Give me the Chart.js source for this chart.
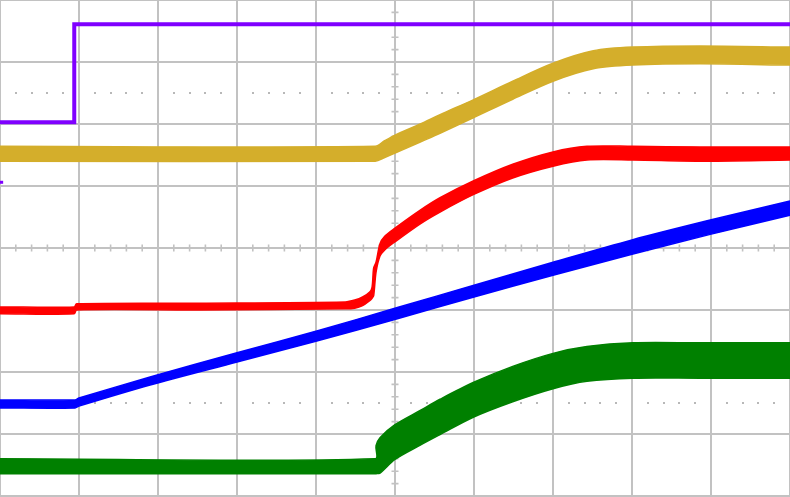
<!DOCTYPE html>
<html><head><meta charset="utf-8">
<script src="https://cdn.jsdelivr.net/npm/chart.js@4"></script>
<style>html,body{margin:0;padding:0;background:#fff;overflow:hidden}</style>
</head><body>
<canvas id="c" width="790" height="497"></canvas>
<script>
// time in divisions (0..10), level in divisions (0..8, bottom = 0)
const purpleT = [0, 0.94, 0.94, 10];
const purpleV = [6.03, 6.03, 7.61, 7.61];
const markerT = [0, 0.04];
const markerV = [5.06, 5.06];

const goldT   = [0, 4.75, 4.87, 5.0, 5.32, 5.57, 5.99, 6.49, 7.0, 7.51, 8.01, 8.86, 10];
const goldTop = [5.64, 5.64, 5.73, 5.82, 6.00, 6.15, 6.39, 6.69, 6.98, 7.18, 7.24, 7.26, 7.24];
const goldBot = [5.40, 5.40, 5.46, 5.53, 5.71, 5.85, 6.10, 6.40, 6.69, 6.89, 6.95, 6.97, 6.95];

const redT   = [0, 0.94, 0.97, 2.53, 4.37, 4.49, 4.59, 4.68, 4.71, 4.73, 4.76, 4.81, 4.87, 5.0, 5.32, 5.57, 5.99, 6.49, 7.0, 7.43, 8.01, 8.86, 10];
const redTop = [3.05, 3.05, 3.10, 3.11, 3.13, 3.16, 3.21, 3.29, 3.37, 3.68, 3.77, 4.07, 4.19, 4.32, 4.61, 4.81, 5.08, 5.35, 5.55, 5.64, 5.64, 5.63, 5.63];
const redBot = [2.94, 2.94, 3.00, 3.00, 3.02, 3.03, 3.07, 3.15, 3.19, 3.23, 3.61, 3.87, 3.97, 4.10, 4.39, 4.58, 4.86, 5.13, 5.32, 5.42, 5.42, 5.40, 5.42];

const blueT   = [0, 0.95, 1.0, 1.9, 3.0, 4.01, 5.03, 6.0, 7.0, 8.0, 8.99, 10];
const blueTop = [1.55, 1.55, 1.58, 1.92, 2.31, 2.66, 3.04, 3.40, 3.77, 4.13, 4.45, 4.76];
const blueBot = [1.42, 1.42, 1.45, 1.79, 2.16, 2.50, 2.86, 3.21, 3.56, 3.90, 4.22, 4.53];

const greenT   = [0, 4.75, 4.76, 4.81, 5.0, 5.32, 5.57, 5.99, 6.49, 7.0, 7.43, 8.01, 8.86, 10];
const greenTop = [0.60, 0.60, 0.81, 0.94, 1.15, 1.38, 1.56, 1.83, 2.09, 2.30, 2.41, 2.47, 2.47, 2.47];
const greenBot = [0.36, 0.36, 0.36, 0.37, 0.59, 0.82, 0.99, 1.27, 1.52, 1.73, 1.85, 1.90, 1.90, 1.90];

const dotRows = [6.5, 1.5];

const pts = (t, v) => t.map((x, i) => ({x, y: v[i]}));
function band(t, top, bot, color) {
  const common = {borderColor: color, backgroundColor: color, borderWidth: 1.5, pointRadius: 0, tension: 0.3};
  return [
    Object.assign({data: pts(t, top), fill: '+1'}, common),
    Object.assign({data: pts(t, bot), fill: false}, common)
  ];
}

const GRID = '#c2c2c2';
const osc = {
  id: 'osc',
  beforeDatasetsDraw(chart) {
    const {ctx, scales: {x, y}} = chart;
    ctx.save();
    ctx.fillStyle = '#b8b8b8';
    for (const row of dotRows) {
      const py = y.getPixelForValue(row);
      for (let i = 0; i <= 50; i++) {
        if (i % 5 === 0) continue;
        const px = x.getPixelForValue(i * 0.2);
        ctx.fillRect(Math.round(px) - 1, Math.round(py) - 1, 2, 2);
      }
    }
    ctx.strokeStyle = GRID;
    ctx.lineWidth = 1.6;
    const cy = y.getPixelForValue(4), cx = x.getPixelForValue(5);
    ctx.beginPath();
    for (let i = 0; i <= 50; i++) {
      if (i % 5 === 0) continue;
      const px = x.getPixelForValue(i * 0.2);
      ctx.moveTo(px, cy - 3.5); ctx.lineTo(px, cy + 3.5);
    }
    for (let j = 0; j <= 40; j++) {
      if (j % 5 === 0) continue;
      const py = y.getPixelForValue(j * 0.2);
      ctx.moveTo(cx - 3.5, py); ctx.lineTo(cx + 3.5, py);
    }
    ctx.stroke();
    ctx.restore();
  }
};

new Chart(document.getElementById('c'), {
  type: 'line',
  data: {
    datasets: [
      {data: pts(purpleT, purpleV), borderColor: '#7f00ff', borderWidth: 4, fill: false, pointRadius: 0, tension: 0},
      {data: pts(markerT, markerV), borderColor: '#7f00ff', borderWidth: 3, fill: false, pointRadius: 0, tension: 0},
      ...band(goldT, goldTop, goldBot, '#d4ae2b'),
      ...band(redT, redTop, redBot, '#ff0000'),
      ...band(blueT, blueTop, blueBot, '#0000ff'),
      ...band(greenT, greenTop, greenBot, '#008000')
    ]
  },
  options: {
    responsive: false,
    animation: false,
    devicePixelRatio: 1,
    layout: {padding: {left: 0, right: 0, top: 0, bottom: 1}},
    plugins: {legend: {display: false}, tooltip: {enabled: false}},
    scales: {
      x: {type: 'linear', min: 0, max: 10, ticks: {display: false, stepSize: 1},
          grid: {color: GRID, lineWidth: 2, drawTicks: false}, border: {display: false}},
      y: {type: 'linear', min: 0, max: 8, ticks: {display: false, stepSize: 1},
          grid: {color: GRID, lineWidth: 2, drawTicks: false}, border: {display: false}}
    }
  },
  plugins: [osc]
});
</script>
</body></html>
